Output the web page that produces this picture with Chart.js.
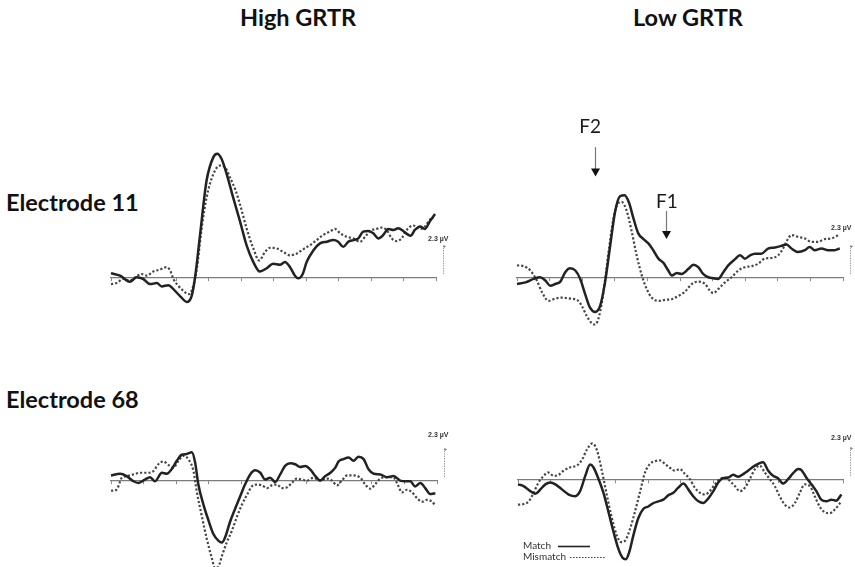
<!DOCTYPE html>
<html>
<head>
<meta charset="utf-8">
<script src="https://cdn.jsdelivr.net/npm/chart.js@4.4.1/dist/chart.umd.min.js"></script>
<style>
  html, body { margin: 0; padding: 0; background: #fff; }
  #page { position: relative; width: 855px; height: 567px; overflow: hidden; background: #fff; }
  .title { position: absolute; font-family: Lato, "Open Sans", sans-serif; font-weight: 700;
           font-size: 23.5px; line-height: 1; color: #111; white-space: nowrap; }
  canvas { position: absolute; }
</style>
</head>
<body>
<div id="page">
  <div class="title" style="left:240px; top:6px;">High GRTR</div>
  <div class="title" style="left:633px; top:6px;">Low GRTR</div>
  <div class="title" style="left:6px; top:191px;">Electrode 11</div>
  <div class="title" style="left:6px; top:388px;">Electrode 68</div>
  <canvas id="c-high-11"></canvas>
  <canvas id="c-low-11"></canvas>
  <canvas id="c-high-68"></canvas>
  <canvas id="c-low-68"></canvas>
</div>
<script>
// Grand-average ERP waveforms, [time (ms), amplitude (µV)]
const highE11Match = [[-100,0.32],[-72,0.13],[-42,-0.34],[-21,0],[-1,-0.13],[20,-0.53],[41,-0.45],[56,-0.71],[76,-0.61],[97,-1.06],[117,-1.59],[133,-1.93],[148,-1.46],[158,-0.13],[174,3.31],[194,7.54],[215,9.39],[227,9.66],[240,9.26],[256,8.07],[276,6.22],[297,4.37],[317,2.51],[338,1.19],[358,0.45],[379,0.71],[399,1.06],[420,0.98],[435,1.19],[451,0.79],[466,0.13],[476,-0.08],[490,0.26],[502,1.19],[523,2.12],[543,2.65],[564,2.78],[584,2.91],[599,2.78],[615,2.38],[630,2.78],[646,2.91],[661,3.04],[676,3.57],[692,3.62],[707,3.44],[723,3.04],[738,3.31],[753,3.78],[769,3.70],[784,3.84],[799,3.62],[815,3.31],[822,3.25],[835,3.70],[851,3.97],[866,3.78],[881,4.37],[897,4.95]];
const highE11Mismatch = [[-100,-0.53],[-83,-0.45],[-62,-0.13],[-42,-0.26],[-21,0.08],[-6,0.26],[10,0.13],[30,0.45],[51,0.61],[71,0.79],[82,0.53],[92,-0.13],[107,-0.66],[123,-1.06],[138,-1.32],[148,-1.06],[164,0.66],[179,3.84],[194,6.22],[215,8.07],[235,8.73],[251,8.60],[266,7.80],[282,6.88],[297,5.69],[317,3.84],[338,2.25],[356,1.32],[374,1.98],[389,2.30],[410,2.25],[430,1.98],[451,1.72],[471,1.85],[492,2.20],[512,2.51],[533,2.91],[553,3.31],[574,3.57],[589,3.78],[605,3.44],[625,3.17],[646,3.04],[666,2.78],[682,3.17],[697,3.62],[717,3.78],[733,3.89],[748,3.70],[764,3.04],[779,2.83],[794,3.04],[810,3.70],[830,4.05],[851,3.78],[866,3.97],[881,4.50],[892,4.68]];

const lowE11Match = [[-100,-0.53],[-74,-0.40],[-49,-0.13],[-29,0],[-13,-0.26],[2,-0.66],[17,-0.53],[33,-0.34],[48,0.40],[63,0.71],[79,0.53],[94,-0.13],[109,-1.32],[124,-2.38],[140,-2.72],[155,-2.25],[170,-0.40],[186,2.51],[201,5.16],[216,6.35],[230,6.43],[244,5.82],[257,4.63],[272,3.44],[288,2.99],[303,2.65],[318,2.12],[334,1.46],[349,1.14],[364,0.53],[375,0.13],[390,0.34],[405,0.26],[426,0.66],[441,0.98],[456,0.79],[471,0.26],[487,0],[502,-0.08],[517,-0.13],[533,0.40],[548,0.93],[568,1.40],[584,1.72],[599,1.46],[615,1.72],[630,1.85],[650,1.85],[670,2.25],[691,2.33],[711,2.46],[727,2.57],[742,2.25],[762,1.98],[783,2.12],[798,2.38],[813,2.12],[834,2.25],[854,2.12],[874,2.12],[890,2.25]];
const lowE11Mismatch = [[-100,0.93],[-80,0.87],[-59,0.53],[-39,-0.26],[-23,-1.19],[-3,-1.85],[17,-1.67],[38,-1.59],[63,-1.67],[84,-1.77],[99,-2.25],[114,-3.04],[130,-3.62],[140,-3.70],[152,-3.04],[165,-1.19],[181,1.98],[196,4.63],[211,5.82],[221,5.90],[237,5.16],[252,3.57],[267,1.72],[283,0.13],[298,-0.93],[313,-1.59],[334,-1.85],[354,-1.77],[374,-1.72],[395,-1.46],[415,-1.14],[436,-0.53],[456,-0.34],[477,-0.53],[492,-1.06],[502,-1.24],[517,-0.93],[538,-0.40],[558,0],[579,0.53],[599,0.79],[619,0.87],[640,1.06],[660,1.46],[681,1.51],[701,1.72],[716,2.25],[732,3.04],[742,3.31],[762,3.17],[783,3.04],[803,2.78],[823,2.78],[844,2.99],[864,3.04],[890,3.36]];

const highE68Match = [[-100,0.37],[-72,0.50],[-52,0.32],[-31,-0.08],[-16,-0.21],[4,0.05],[20,0.24],[35,-0.08],[56,0.58],[71,0.50],[86,0.85],[102,1.51],[117,1.98],[132,2.04],[148,2.17],[158,1.38],[168,-0.34],[184,-1.93],[199,-3.12],[214,-4.18],[230,-4.71],[240,-4.84],[250,-4.44],[265,-3.25],[281,-2.20],[296,-1.27],[311,-0.34],[327,0.45],[342,0.77],[358,0.58],[373,0.05],[388,0.19],[404,-0.13],[419,0.45],[434,1.11],[450,1.32],[465,1.24],[480,1.03],[496,1.11],[511,0.85],[527,0.32],[542,-0.03],[557,0.32],[573,0.58],[588,0.98],[598,1.46],[613,1.64],[629,1.77],[644,1.51],[659,1.83],[675,1.64],[690,0.85],[706,0.50],[726,0.45],[746,0.24],[767,0.32],[787,-0.03],[803,-0.08],[818,-0.08],[833,-0.48],[849,-0.21],[864,-0.61],[879,-1.08],[895,-1.01]];
const highE68Mismatch = [[-100,-0.82],[-83,-0.74],[-67,0.19],[-52,0.32],[-31,0.45],[-11,0.58],[10,0.58],[30,0.71],[45,1.24],[61,1.46],[76,1.19],[91,0.98],[107,1.51],[122,1.90],[137,1.64],[153,0.71],[163,-0.87],[178,-2.72],[194,-4.58],[209,-6.03],[219,-6.83],[230,-6.69],[240,-5.90],[255,-4.84],[271,-3.92],[286,-2.86],[301,-1.93],[317,-1.14],[332,-0.48],[347,-0.34],[363,-0.40],[378,-0.61],[393,-0.40],[409,-0.34],[424,-0.61],[439,-0.56],[455,-0.21],[470,0.13],[485,0.05],[501,-0.03],[521,0.19],[542,-0.03],[562,0.13],[578,-0.03],[593,-0.40],[608,-0.03],[624,0.37],[644,0.37],[665,0.19],[680,-0.34],[695,-0.66],[711,-0.29],[726,0.13],[746,0.24],[767,0.19],[782,-0.48],[792,-0.95],[808,-0.74],[823,-0.93],[839,-1.40],[854,-1.67],[869,-1.53],[885,-1.67],[895,-1.98]];

const lowE68Match = [[-100,-0.40],[-83,-0.53],[-62,-0.93],[-47,-1.14],[-31,-0.79],[-16,-0.40],[0,-0.26],[15,-0.40],[35,-0.79],[56,-1.19],[76,-1.32],[91,-0.93],[107,0.26],[122,1.14],[132,0.93],[148,0],[163,-1.06],[178,-2.51],[194,-4.10],[209,-5.42],[221,-6.08],[232,-6.22],[242,-5.69],[255,-4.37],[270,-3.04],[286,-2.30],[301,-2.12],[317,-1.85],[332,-1.72],[347,-1.59],[363,-1.24],[378,-1.06],[393,-0.66],[409,-0.34],[424,-0.79],[439,-1.32],[455,-1.72],[470,-1.85],[485,-1.51],[501,-0.93],[516,-0.26],[531,0.08],[547,0.13],[562,0.34],[578,0.19],[593,0.40],[608,0.66],[624,0.98],[639,1.19],[654,1.32],[670,0.66],[685,0.26],[700,0.08],[716,-0.34],[731,0],[746,0.45],[762,0.79],[772,0.71],[787,0.13],[803,-0.40],[818,-0.93],[833,-1.59],[849,-1.72],[864,-1.59],[879,-1.67],[895,-1.19]];
const lowE68Mismatch = [[-100,-1.98],[-83,-1.93],[-67,-1.72],[-52,-1.06],[-37,-0.26],[-21,0.26],[-8,0.53],[10,0.26],[25,0.34],[40,0.66],[61,0.93],[81,1.06],[97,1.51],[112,2.30],[129,2.78],[143,2.25],[158,0.66],[173,-1.19],[189,-3.04],[204,-4.37],[217,-4.89],[230,-4.76],[245,-3.84],[260,-2.51],[276,-0.93],[291,0.53],[306,1.19],[322,1.40],[337,1.46],[352,1.19],[368,0.87],[383,0.66],[398,0.79],[414,0.40],[429,0],[444,-0.66],[460,-1.06],[475,-1.19],[490,-0.93],[506,-0.40],[521,0],[537,0.13],[552,-0.13],[567,-0.53],[583,-0.93],[598,-0.66],[613,0],[629,0.79],[644,1.06],[659,0.53],[675,0],[690,-0.53],[705,-1.32],[721,-1.98],[736,-2.20],[752,-1.85],[767,-1.06],[782,-0.40],[798,-0.53],[813,-1.32],[828,-2.12],[844,-2.57],[859,-2.65],[874,-2.38],[895,-1.72]];

// Epoch and x-axis tick spacing (ms)
const epochStart = -100, epochEnd = 900, tickStep = 100;
// Series names shown in the legend
const seriesNames = ['Match', 'Mismatch'];
// Calibration bar
const calibLabel = '2.3 µV', calibSpan = 2.3, calibBase = 0.25, calibAt = 922;
// Component markers on the low-GRTR electrode 11 panel
const markerNames = ['F2', 'F1'];
const markerTimes = [139, 357];
const markerLabelTimes = [124, 360];

// ---- layout ----
const PX_PER_UV = 12.6;
const TICK_LEN = 3;
const PAD_L = 6, PAD_R = 18;

const solidStyle = { borderColor: '#222222', borderWidth: 2.5, borderDash: [] };
const dashStyle = { borderColor: '#474747', borderWidth: 2.2, borderDash: [2.2, 2] };

const calibrationBar = {
  id: 'calibrationBar',
  afterDatasetsDraw(chart, args, o) {
    const { ctx } = chart;
    const xs = chart.scales.x, ys = chart.scales.y;
    const px = Math.round(xs.getPixelForValue(o.at)) + 0.5;
    const yb = ys.getPixelForValue(o.base);
    const yt = ys.getPixelForValue(o.base + o.span);
    ctx.save();
    ctx.strokeStyle = '#9c9c9c';
    ctx.lineWidth = 1;
    ctx.setLineDash([1.4, 1.1]);
    ctx.beginPath(); ctx.moveTo(px, yb); ctx.lineTo(px, yt); ctx.stroke();
    ctx.setLineDash([]);
    ctx.fillStyle = '#555';
    ctx.font = '6px "Liberation Sans"';
    ctx.textAlign = 'center'; ctx.textBaseline = 'middle';
    ctx.fillText('+', px + 1, yt + 2);
    ctx.font = 'bold 7px "Liberation Sans"';
    ctx.textAlign = 'right'; ctx.textBaseline = 'alphabetic';
    ctx.fillStyle = '#333';
    ctx.fillText(o.label, px + o.dx, yt - o.lift);
    ctx.restore();
  }
};

const componentMarkers = {
  id: 'componentMarkers',
  afterDatasetsDraw(chart, args, o) {
    if (!o.items) return;
    const { ctx } = chart;
    const xs = chart.scales.x, ys = chart.scales.y;
    ctx.save();
    o.items.forEach(m => {
      const x = Math.round(xs.getPixelForValue(m.t)) + 0.5;
      const yTop = ys.getPixelForValue(m.from);
      const yTip = ys.getPixelForValue(m.to);
      ctx.strokeStyle = '#777';
      ctx.lineWidth = 1.2;
      ctx.beginPath(); ctx.moveTo(x, yTop); ctx.lineTo(x, yTip - 6); ctx.stroke();
      ctx.fillStyle = '#111';
      ctx.beginPath();
      ctx.moveTo(x - 4.5, yTip - 8); ctx.lineTo(x + 4.5, yTip - 8); ctx.lineTo(x, yTip);
      ctx.closePath(); ctx.fill();
      ctx.font = '19px Lato';
      ctx.textAlign = 'center'; ctx.textBaseline = 'alphabetic';
      ctx.fillStyle = '#1a1a1a';
      ctx.fillText(m.label, xs.getPixelForValue(m.labelT), ys.getPixelForValue(m.labelAt));
    });
    ctx.restore();
  }
};

const lineLegend = {
  id: 'lineLegend',
  afterDraw(chart, args, o) {
    if (!o.rows) return;
    const { ctx, chartArea } = chart;
    ctx.save();
    chart.data.datasets.forEach((ds, i) => {
      const r = o.rows[i];
      const y = r.y;
      ctx.font = '10px Lato';
      ctx.fillStyle = '#333';
      ctx.textAlign = 'left'; ctx.textBaseline = 'middle';
      ctx.fillText(ds.label, chartArea.left + 5, y);
      ctx.strokeStyle = ds.borderColor;
      ctx.lineWidth = i === 0 ? 1.6 : 1.2;
      ctx.setLineDash(ds.borderDash.length ? [1.6, 1.4] : []);
      ctx.beginPath();
      ctx.moveTo(chartArea.left + r.x0, y + 0.5);
      ctx.lineTo(chartArea.left + r.x1, y + 0.5);
      ctx.stroke();
    });
    ctx.restore();
  }
};

function makePanel(id, geo, match, mismatch, extra) {
  const canvas = document.getElementById(id);
  const w = (geo.axisRight - geo.axisLeft) + PAD_L + PAD_R;
  const h = geo.bottom - geo.top;
  canvas.width = w; canvas.height = h;
  canvas.style.width = w + 'px'; canvas.style.height = h + 'px';
  canvas.style.left = (geo.axisLeft - PAD_L) + 'px';
  canvas.style.top = geo.top + 'px';
  const yMax = (geo.axisY - geo.top) / PX_PER_UV;
  const yMin = yMax - (h - TICK_LEN) / PX_PER_UV;
  const toXY = pts => pts.map(([x, y]) => ({ x, y }));
  return new Chart(canvas, {
    type: 'line',
    data: {
      datasets: [
        Object.assign({ label: seriesNames[0], data: toXY(match) }, solidStyle),
        Object.assign({ label: seriesNames[1], data: toXY(mismatch) }, dashStyle)
      ].map(d => Object.assign(d, { pointRadius: 0, fill: false, clip: false,
                                    cubicInterpolationMode: 'monotone' }))
    },
    options: {
      responsive: false,
      animation: false,
      devicePixelRatio: 1,
      layout: { padding: { left: PAD_L, right: PAD_R, top: 0, bottom: 0 } },
      scales: {
        x: {
          type: 'linear', min: epochStart, max: epochEnd,
          position: { y: 0 },
          ticks: { display: false, stepSize: tickStep },
          grid: { drawOnChartArea: false, drawTicks: true, tickLength: TICK_LEN,
                  color: '#8a8a8a', tickColor: '#8a8a8a', tickWidth: 1 },
          border: { display: true, color: '#7c7c7c', width: 1.2 }
        },
        y: { type: 'linear', display: false, min: yMin, max: yMax }
      },
      plugins: {
        legend: { display: false },
        tooltip: { enabled: false },
        calibrationBar: { at: calibAt, base: calibBase, span: calibSpan, label: calibLabel,
                          dx: geo.labelDx, lift: geo.labelLift },
        componentMarkers: (extra && extra.markers) || {},
        lineLegend: (extra && extra.legend) || {}
      }
    },
    plugins: [calibrationBar, componentMarkers, lineLegend]
  });
}

makePanel('c-high-11',
  { axisLeft: 111, axisRight: 436, axisY: 275, top: 130, bottom: 320, labelDx: 5, labelLift: 4 },
  highE11Match, highE11Mismatch);

makePanel('c-low-11',
  { axisLeft: 517, axisRight: 843, axisY: 275, top: 100, bottom: 335, labelDx: 1, labelLift: 15 },
  lowE11Match, lowE11Mismatch,
  { markers: { items: [
      { label: markerNames[0], t: markerTimes[0], labelT: markerLabelTimes[0], labelAt: 11.3, from: 10.2, to: 7.9 },
      { label: markerNames[1], t: markerTimes[1], labelT: markerLabelTimes[1], labelAt: 5.4, from: 5.2, to: 3.0 }
  ] } });

makePanel('c-high-68',
  { axisLeft: 111, axisRight: 437, axisY: 479, top: 420, bottom: 567, labelDx: 4, labelLift: 10 },
  highE68Match, highE68Mismatch);

makePanel('c-low-68',
  { axisLeft: 518, axisRight: 843, axisY: 478, top: 420, bottom: 567, labelDx: 1, labelLift: 6 },
  lowE68Match, lowE68Mismatch,
  { legend: { rows: [ { y: 126, x0: 40, x1: 72 }, { y: 137, x0: 52, x1: 87 } ] } });
</script>
</body>
</html>
